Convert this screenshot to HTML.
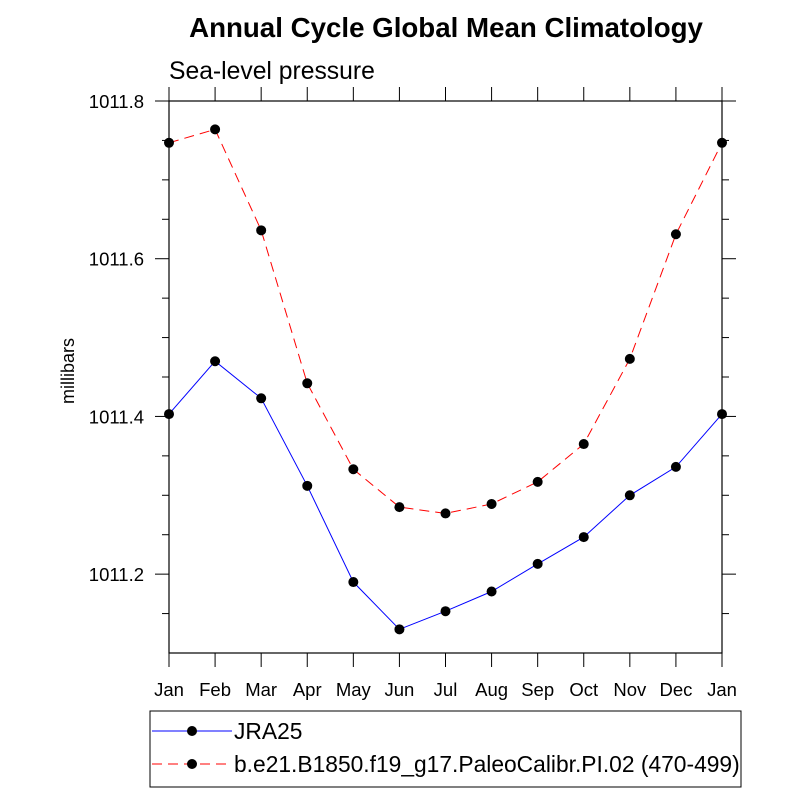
<!DOCTYPE html>
<html><head><meta charset="utf-8"><style>
body{margin:0;background:#fff}
svg{display:block;font-family:"Liberation Sans",sans-serif}
</style></head><body>
<svg id="c" width="800" height="800">
<text x="446" y="37" text-anchor="middle" font-size="27.7" font-weight="bold">Annual Cycle Global Mean Climatology</text>
<text x="169" y="79" font-size="24.7">Sea-level pressure</text>
<text transform="translate(74,371) rotate(-90)" text-anchor="middle" font-size="18">millibars</text>
<g id="axes"></g>
<g id="series"></g>
<rect x="150" y="711" width="591" height="76" fill="none" stroke="#000" stroke-width="1"/>
<line x1="152" y1="731" x2="232" y2="731" stroke="#00f"/>
<circle cx="192" cy="731" r="5" fill="#000"/>
<text x="234" y="739" font-size="22.8">JRA25</text>
<line x1="152" y1="764" x2="232" y2="764" stroke="#f00" stroke-dasharray="10,6"/>
<circle cx="192" cy="764" r="5" fill="#000"/>
<text x="234" y="772" font-size="22.8">b.e21.B1850.f19_g17.PaleoCalibr.PI.02 (470-499)</text>
</svg>
<script>
const months=["Jan","Feb","Mar","Apr","May","Jun","Jul","Aug","Sep","Oct","Nov","Dec","Jan"];
const yTicks=[1011.2,1011.4,1011.6,1011.8];
const jra25=[1011.403,1011.470,1011.423,1011.312,1011.190,1011.130,1011.153,1011.178,1011.213,1011.247,1011.300,1011.336,1011.403];
const model=[1011.747,1011.764,1011.636,1011.442,1011.333,1011.285,1011.277,1011.289,1011.317,1011.365,1011.473,1011.631,1011.747];
const L=169,R=722,T=101,B=653,yMin=1011.1,yMax=1011.8;
const X=i=>L+(R-L)*i/(months.length-1);
const Y=v=>B-(B-T)*(v-yMin)/(yMax-yMin);
const NS="http://www.w3.org/2000/svg";
function mk(p,tag,a){const e=document.createElementNS(NS,tag);for(const k in a)e.setAttribute(k,a[k]);p.appendChild(e);return e;}
const ax=document.getElementById('axes');
const fr=mk(ax,'rect',{x:L,y:T,width:R-L,height:B-T,fill:'none',stroke:'#000','stroke-width':1.2});


months.forEach((m,i)=>{
  const x=X(i);
  mk(ax,'line',{x1:x,y1:B,x2:x,y2:B+14,stroke:'#000'});
  mk(ax,'line',{x1:x,y1:T,x2:x,y2:T-14,stroke:'#000'});
  const t=mk(ax,'text',{x:x,y:B+43,'text-anchor':'middle','font-size':18.5});
  t.textContent=m;
  
  
});
for(let v=yMin+0.05;v<yMax+0.001;v+=0.05){
  const y=Y(v);
  const major=yTicks.some(t=>Math.abs(t-v)<1e-6);
  const len=major?14:7;
  mk(ax,'line',{x1:L,y1:y,x2:L-len,y2:y,stroke:'#000'});
  mk(ax,'line',{x1:R,y1:y,x2:R+len,y2:y,stroke:'#000'});
}
yTicks.forEach(v=>{
  const t=mk(ax,'text',{x:L-25,y:Y(v)+7,'text-anchor':'end','font-size':18.5});
  t.textContent=v.toFixed(1);
  
  
});
const sg=document.getElementById('series');
function draw(vals,color,dash,name){
  const pts=vals.map((v,i)=>X(i)+','+Y(v)).join(' ');
  const pl=mk(sg,'polyline',{points:pts,fill:'none',stroke:color,'stroke-width':1,'stroke-dasharray':dash});
  
  
  vals.forEach((v,i)=>{
    const c=mk(sg,'circle',{cx:X(i),cy:Y(v),r:5,fill:'#000'});
    
    
  });
}
draw(model,'#f00','10,6','model');
draw(jra25,'#00f','none','jra25');
</script>
</body></html>
